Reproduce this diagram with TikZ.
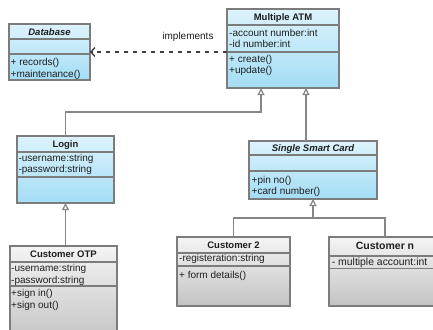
\documentclass[tikz,border=0pt]{standalone}
\usepackage{fontspec}
\setmainfont{Liberation Sans}
\usepackage{tikz}
\usetikzlibrary{arrows.meta,positioning,calc}
\definecolor{umlline}{HTML}{868686}
\definecolor{umlborder}{HTML}{7C7C7C}
\definecolor{bluetop}{HTML}{DDF3FC}
\definecolor{bluebot}{HTML}{A3DDF5}
\definecolor{greytop}{HTML}{F4F4F4}
\definecolor{greybot}{HTML}{C4C4C4}
\definecolor{umltext}{HTML}{1E1E1E}
\tikzstyle{classbox} = [rectangle, anchor=north west, draw=umlborder, line width=1.2pt, inner sep=0pt, outer sep=0pt]
\tikzstyle{bluebox} = [classbox, top color=bluetop, bottom color=bluebot]
\tikzstyle{greybox} = [classbox, top color=greytop, bottom color=greybot]
\tikzstyle{classname} = [font=\fontsize{9.5}{11}\selectfont\bfseries, text=umltext, inner sep=0pt, text height=7pt, text depth=2pt]
\tikzstyle{abstractname} = [classname, font=\fontsize{9.5}{11}\selectfont\bfseries\itshape]
\tikzstyle{members} = [font=\fontsize{10}{11.5}\selectfont, text=umltext, align=left, inner sep=0pt]
\tikzstyle{divider} = [draw=umlborder, line width=1.2pt]
\tikzstyle{inherit} = [draw=umlline, line width=1.8pt, -{Triangle[open, length=7pt, width=7pt, line width=1.2pt, fill=white]}]
\tikzstyle{link} = [draw=umlline, line width=1.8pt]
\tikzstyle{realize} = [draw=black!75, line width=1.4pt, dash pattern=on 4pt off 5pt, -{Straight Barb[length=4pt, width=9pt]}]
\begin{document}
\begin{tikzpicture}[x=1pt, y=-1pt]
\useasboundingbox (0,0) rectangle (433,329);

\node (db) [bluebox, minimum width=81, minimum height=56] at (9,24) {};
\node (db-t) [abstractname, below=4pt of db.north] {Database};
\node (db-m) [members, below right=34.3pt and 1.5pt of db.north west] {+ records()\\+maintenance()};
\draw [divider] ($(db.north west)+(0,15)$) -- ($(db.north east)+(0,15)$);
\draw [divider] ($(db.north west)+(0,30)$) -- ($(db.north east)+(0,30)$);

\node (atm) [bluebox, minimum width=112, minimum height=79] at (227,9) {};
\node (atm-t) [classname, below=4.5pt of atm.north] {Multiple ATM};
\node (atm-a) [members, below right=19.6pt and 2pt of atm.north west] {-account number:int\\-id number:int};
\node (atm-m) [members, below right=45.6pt and 2pt of atm.north west] {+ create()\\+update()};
\draw [divider] ($(atm.north west)+(0,16)$) -- ($(atm.north east)+(0,16)$);
\draw [divider] ($(atm.north west)+(0,43)$) -- ($(atm.north east)+(0,43)$);

\node (login) [bluebox, minimum width=97, minimum height=67] at (17,136) {};
\node (login-t) [classname, below=4.5pt of login.north] {Login};
\node (login-a) [members, below right=18pt and 1.3pt of login.north west] {-username:string\\-password:string};
\draw [divider] ($(login.north west)+(0,16)$) -- ($(login.north east)+(0,16)$);
\draw [divider] ($(login.north west)+(0,41)$) -- ($(login.north east)+(0,41)$);

\node (otp) [greybox, minimum width=107, minimum height=95] at (10,246) {};
\node (otp-t) [classname, below=4.5pt of otp.north] {Customer OTP};
\node (otp-a) [members, font=\fontsize{10}{12.3}\selectfont, below right=18pt and 1pt of otp.north west] {-username:string\\-password:string};
\node (otp-m) [members, font=\fontsize{10}{12.3}\selectfont, below right=43pt and 1pt of otp.north west] {+sign in()\\+sign out()};
\draw [divider] ($(otp.north west)+(0,16)$) -- ($(otp.north east)+(0,16)$);
\draw [divider] ($(otp.north west)+(0,40)$) -- ($(otp.north east)+(0,40)$);

\node (card) [bluebox, minimum width=128, minimum height=58] at (249,141) {};
\node (card-t) [abstractname, below=3.3pt of card.north] {Single Smart Card};
\node (card-m) [members, below right=34.6pt and 2.5pt of card.north west] {+pin no()\\+card number()};
\draw [divider] ($(card.north west)+(0,14)$) -- ($(card.north east)+(0,14)$);
\draw [divider] ($(card.north west)+(0,30)$) -- ($(card.north east)+(0,30)$);

\node (cust2) [greybox, minimum width=113, minimum height=69] at (177,237) {};
\node (cust2-t) [classname, below=4.5pt of cust2.north] {Customer 2};
\node (cust2-a) [members, below right=17pt and 2pt of cust2.north west] {-registeration:string};
\node (cust2-m) [members, below right=34.3pt and 2pt of cust2.north west] {+ form details()};
\draw [divider] ($(cust2.north west)+(0,16)$) -- ($(cust2.north east)+(0,16)$);
\draw [divider] ($(cust2.north west)+(0,29)$) -- ($(cust2.north east)+(0,29)$);

\node (custn) [greybox, minimum width=112, minimum height=69] at (329,237) {};
\node (custn-t) [classname, font=\fontsize{10.5}{12}\selectfont\bfseries, below=5pt of custn.north] {Customer n};
\node (custn-a) [members, font=\fontsize{10.4}{12}\selectfont, below right=21pt and 2.7pt of custn.north west] {- multiple account:int};
\draw [divider] ($(custn.north west)+(0,19)$) -- ($(custn.north east)+(0,19)$);
\draw [divider] ($(custn.north west)+(0,31.5)$) -- ($(custn.north east)+(0,31.5)$);

\coordinate (atm-l) at ($(atm.south west)+(34,0)$);
\coordinate (atm-r) at ($(atm.south west)+(79,0)$);
\coordinate (fork) at ($(card.south)+(0,19)$);

\draw [realize] (atm.west |- db.east) -- node (impl) [members, pos=0.285, anchor=base, yshift=12.5pt] {implements} (db.east);
\draw [inherit] (login.north) |- ($(atm-l)+(0,24)$) -- (atm-l);
\draw [inherit] (card.north -| atm-r) -- (atm-r);
\draw [inherit] (otp.north -| login.south) -- (login.south);
\draw [link] (cust2.north) |- (fork) -| (custn.north);
\draw [inherit] (fork) -- (card.south);
\end{tikzpicture}
\end{document}
